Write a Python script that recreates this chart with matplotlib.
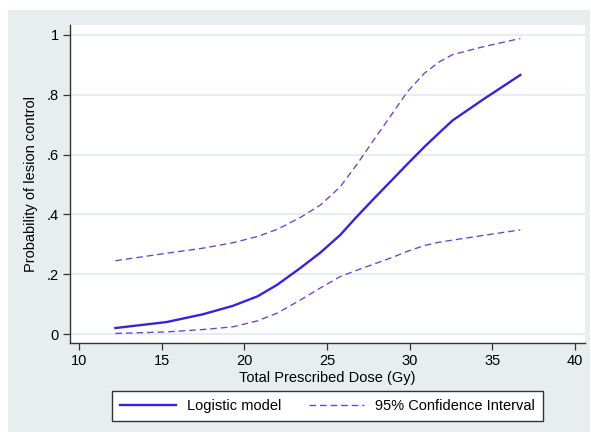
import matplotlib
matplotlib.use("Agg")
import matplotlib.pyplot as plt
from matplotlib.patches import Rectangle

plt.rcParams['font.family'] = ['Liberation Sans', 'DejaVu Sans']

dose = [12.2, 15.3, 17.5, 19.3, 20.8, 22.0, 23.4, 24.6, 25.8, 26.8, 27.9, 28.9,
        29.9, 30.9, 31.8, 32.6, 34.5, 36.7]
fit = [0.020, 0.040, 0.066, 0.094, 0.126, 0.165, 0.221, 0.272, 0.331, 0.392, 0.456, 0.513,
       0.570, 0.626, 0.673, 0.714, 0.786, 0.866]
upper = [0.245, 0.270, 0.287, 0.305, 0.326, 0.350, 0.390, 0.431, 0.492, 0.566, 0.654, 0.733,
         0.812, 0.872, 0.910, 0.934, 0.961, 0.988]
lower = [0.002, 0.007, 0.015, 0.024, 0.044, 0.070, 0.114, 0.154, 0.192, 0.213, 0.235, 0.255,
         0.277, 0.296, 0.307, 0.314, 0.330, 0.348]

xticks = [10, 15, 20, 25, 30, 35, 40]
yticks = [0, 0.2, 0.4, 0.6, 0.8, 1.0]
ylabels = ['0', '.2', '.4', '.6', '.8', '1']

W, H = 591, 432
fig = plt.figure(figsize=(W / 100, H / 100), dpi=100, facecolor='white')
fig.patches.append(Rectangle((8 / W, 0), 582 / W, (H - 10) / H, transform=fig.transFigure,
                             facecolor='#e8edf0', edgecolor='none', zorder=-10))

ax = fig.add_axes([70 / W, (H - 343) / H, (585 - 70) / W, (343 - 25) / H])
ax.set_facecolor('white')

line_color = '#3a1fe8'
ax.plot(dose, fit, color=line_color, lw=1.7, label='Logistic model', zorder=3)
ax.plot(dose, upper, color='#5a44ee', lw=0.95, ls=(0, (5, 3)), label='95% Confidence Interval', zorder=3)
ax.plot(dose, lower, color='#5a44ee', lw=0.95, ls=(0, (5, 3)), zorder=3)

ax.set_xlim(9.455, 40.61)
ax.set_ylim(-0.030, 1.033)
ax.set_xticks(xticks)
ax.set_yticks(yticks)
ax.set_yticklabels(ylabels)
ax.grid(axis='y', color='#e4ecef', lw=1.3)
ax.grid(axis='x', visible=False)
ax.set_axisbelow(True)

for s in ['top', 'right']:
    ax.spines[s].set_visible(False)
for s in ['left', 'bottom']:
    ax.spines[s].set_color('#333333')
    ax.spines[s].set_linewidth(1.0)

ax.tick_params(axis='both', direction='out', length=5, width=0.9, color='#333333',
               labelsize=10.5, labelcolor='black', pad=3)

ax.set_xlabel('Total Prescribed Dose (Gy)', fontsize=10.5, labelpad=2)
ax.set_ylabel('Probability of lesion control', fontsize=10.5, labelpad=6)

leg = ax.legend(loc='upper center', bbox_to_anchor=(0.5, -0.152), ncol=2, frameon=True,
                fancybox=False, edgecolor='#333333', framealpha=1, fontsize=10.5,
                handlelength=3.8, columnspacing=1.9, borderaxespad=0, borderpad=0.55,
                handletextpad=0.75)
leg.get_frame().set_linewidth(1.0)

fig.savefig('out.png', dpi=100, facecolor='white')
